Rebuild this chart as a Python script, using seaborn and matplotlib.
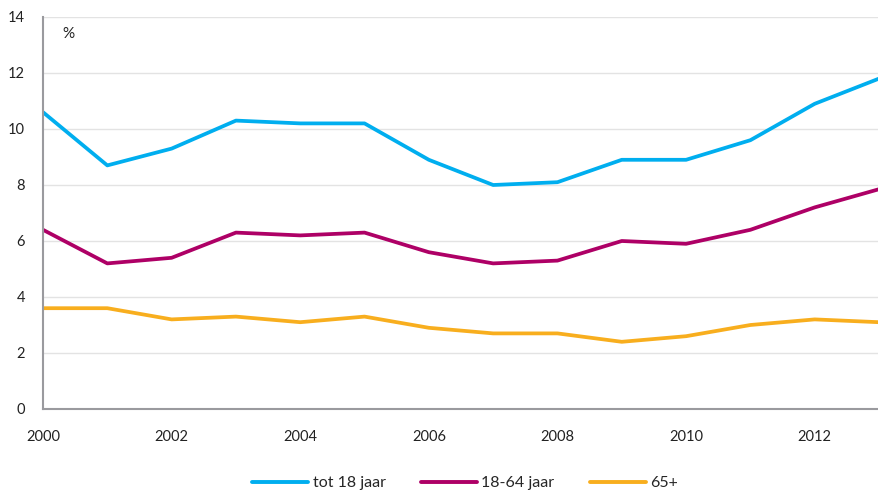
import numpy as np
import pandas as pd
import matplotlib
matplotlib.use('Agg')
import matplotlib.pyplot as plt
import seaborn as sns

# Data
years = list(range(2000, 2014))
tot_18 = [10.6, 8.7, 9.3, 10.3, 10.2, 10.2, 8.9, 8.0, 8.1, 8.9, 8.9, 9.6, 10.9, 11.8]
age_18_64 = [6.4, 5.2, 5.4, 6.3, 6.2, 6.3, 5.6, 5.2, 5.3, 6.0, 5.9, 6.4, 7.2, 7.85]
age_65 = [3.6, 3.6, 3.2, 3.3, 3.1, 3.3, 2.9, 2.7, 2.7, 2.4, 2.6, 3.0, 3.2, 3.1]
series_names = ['tot 18 jaar', '18-64 jaar', '65+']
colors = ['#00AEEF', '#AE0066', '#F8AE1E']

df = pd.DataFrame({'jaar': years, series_names[0]: tot_18,
                   series_names[1]: age_18_64, series_names[2]: age_65})
long = df.melt(id_vars='jaar', var_name='groep', value_name='pct')

sns.set_style('white')
plt.rcParams['font.family'] = ['Lato', 'DejaVu Sans']

fig = plt.figure(figsize=(8.79, 4.91), dpi=100)
ax = fig.add_axes([43 / 879, 82 / 491, 836 / 879, 392 / 491])

sns.lineplot(data=long, x='jaar', y='pct', hue='groep', hue_order=series_names,
             palette=colors, linewidth=2.7, ax=ax, legend=False)

ax.set_xlim(2000, 2012.95)
ax.set_ylim(0, 14)
ax.set_xticks(years)
ax.set_xticklabels([str(y) if y % 2 == 0 else '' for y in years])
ax.set_yticks(range(0, 15, 2))
ax.yaxis.grid(True, color='#e3e3e3', linewidth=1)
ax.set_axisbelow(True)
for s in ['top', 'right']:
    ax.spines[s].set_visible(False)
for s in ['left', 'bottom']:
    ax.spines[s].set_color('#9a9a9e')
    ax.spines[s].set_linewidth(1.5)
ax.tick_params(axis='both', direction='out', length=5, width=1.5, color='#9a9a9e',
               labelsize=10.5, labelcolor='#222222')
ax.tick_params(axis='x', pad=10)
ax.tick_params(axis='y', pad=8)
ax.set_xlabel('')
ax.set_ylabel('')
ax.text(0.031, 0.975, '%', transform=ax.transAxes, fontsize=11, color='#222222',
        va='top', ha='center')

handles = [plt.Line2D([], [], color=c, linewidth=2.8) for c in colors]
fig.legend(handles, series_names, loc='center', bbox_to_anchor=(465 / 879, 8 / 491),
           ncol=3, frameon=False, fontsize=11.5, handlelength=3.5, handletextpad=0.3,
           columnspacing=2.2)

fig.savefig('out.png', dpi=100)
